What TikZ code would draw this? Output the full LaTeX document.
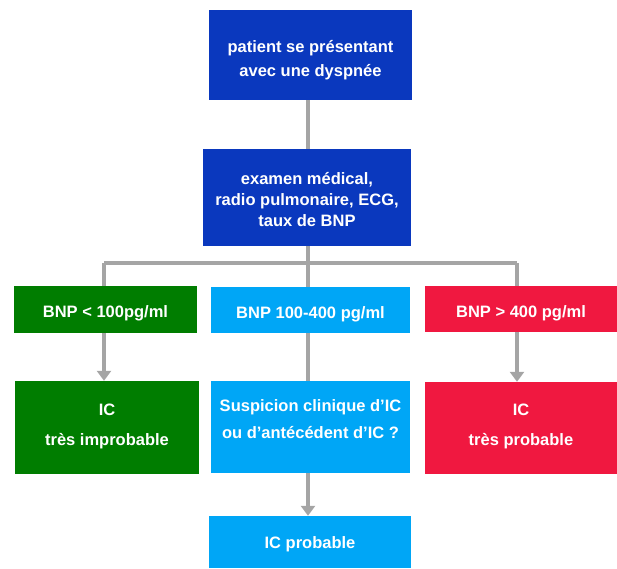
\documentclass[tikz,border=0pt]{standalone}
\usepackage{fontspec}
\setmainfont{Liberation Sans}
\usetikzlibrary{arrows.meta}
\definecolor{dblue}{RGB}{10,56,190}
\definecolor{dgreen}{RGB}{0,125,0}
\definecolor{lblue}{RGB}{0,166,246}
\definecolor{dred}{RGB}{240,24,64}
\definecolor{conn}{RGB}{165,165,165}
\tikzset{
  box/.style={rectangle, inner sep=0pt},
  txt/.style={inner sep=0pt, align=center, text=white},
  link/.style={draw=conn, line width=4.5pt},
  arr/.style={link, -{Triangle[width=14pt,length=10pt]}}
}
\begin{document}
\begin{tikzpicture}[x=1pt,y=-1pt]
\useasboundingbox (0,0) rectangle (617,568);
\node[box, fill=dblue, minimum width=203pt, minimum height=90pt] (b1) at (310.5,55) {};
\node[box, fill=dblue, minimum width=208pt, minimum height=97pt] (b2) at (307,197.5) {};
\node[box, fill=dgreen, minimum width=183pt, minimum height=47pt] (g1) at (105.5,309.5) {};
\node[box, fill=lblue, minimum width=199pt, minimum height=46pt] (m1) at (310.5,310) {};
\node[box, fill=dred, minimum width=192pt, minimum height=46pt] (r1) at (521,309) {};
\node[box, fill=dgreen, minimum width=184pt, minimum height=93pt] (g2) at (107,427.5) {};
\node[box, fill=lblue, minimum width=199pt, minimum height=92pt] (m2) at (310.5,427) {};
\node[box, fill=dred, minimum width=192pt, minimum height=92pt] (r2) at (521,428) {};
\node[box, fill=lblue, minimum width=202pt, minimum height=52pt] (m3) at (310,542) {};
\node[txt, font=\bfseries\fontsize{16.5}{24}\selectfont] (b1t) at (310.5,60) {patient se présentant\\avec une dyspnée};
\node[txt, font=\bfseries\fontsize{16.5}{21}\selectfont] (b2t) at (307,199.5) {examen médical,\\radio pulmonaire, ECG,\\taux de BNP};
\node[txt, font=\bfseries\fontsize{16.5}{20}\selectfont] (g1t) at (105.5,313.5) {BNP < 100pg/ml};
\node[txt, font=\bfseries\fontsize{16.5}{20}\selectfont] (m1t) at (310.5,314) {BNP 100-400 pg/ml};
\node[txt, font=\bfseries\fontsize{16.5}{20}\selectfont] (r1t) at (521,313) {BNP > 400 pg/ml};
\node[txt, font=\bfseries\fontsize{16.5}{30}\selectfont] (g2t) at (107,426) {IC\\très improbable};
\node[txt, font=\bfseries\fontsize{16.5}{27}\selectfont] (m2t) at (310.5,419) {Suspicion clinique d’IC\\ou d’antécédent d’IC ?};
\node[txt, font=\bfseries\fontsize{16.5}{30}\selectfont] (r2t) at (521,426) {IC\\très probable};
\node[txt, font=\bfseries\fontsize{16.5}{20}\selectfont] (m3t) at (310,544) {IC probable};
\coordinate (L) at (104,263);
\coordinate (R) at (517,263);
\coordinate (J) at (308,263);
\draw[link] (b1.south -| J) -- (b2.north -| J);
\draw[link] (b2.south -| J) -- (m1.north -| J);
\draw[link] (L) -- (R);
\draw[link] (L) -- (g1.north -| L);
\draw[link] (R) -- (r1.north -| R);
\draw[arr] (g1.south -| L) -- (g2.north -| L);
\draw[arr] (r1.south -| R) -- (r2.north -| R);
\draw[link] (m1.south -| J) -- (m2.north -| J);
\draw[arr] (m2.south -| J) -- (m3.north -| J);
\end{tikzpicture}
\end{document}
